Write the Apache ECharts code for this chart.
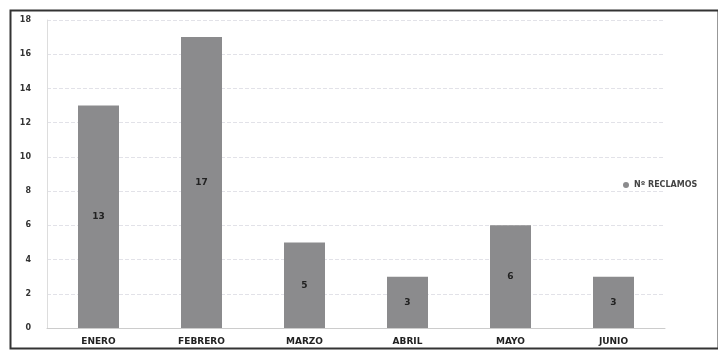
<!DOCTYPE html>
<html>
<head>
<meta charset="utf-8">
<script src="https://cdn.jsdelivr.net/npm/echarts@6/dist/echarts.min.js"></script>
<style>
html,body{margin:0;padding:0;background:#fff;}
#chart{width:718px;height:355px;}
</style>
</head>
<body>
<div id="chart"></div>
<script>
// datos del grafico
var meses = ['ENERO', 'FEBRERO', 'MARZO', 'ABRIL', 'MAYO', 'JUNIO'];
var reclamos = [13, 17, 5, 3, 6, 3];
var serieNombre = 'Nº RECLAMOS';

var myChart = echarts.init(document.getElementById('chart'));
var option = {
    backgroundColor: '#fff',
    textStyle: { fontFamily: 'DejaVu Sans' },
    graphic: [
        { type: 'rect', left: 8, top: 8, shape: { width: 708, height: 338 },
          style: { fill: 'none', stroke: '#333', lineWidth: 2 } }
    ],
    legend: {
        data: [serieNombre],
        left: 618, top: 176,
        icon: 'circle', itemWidth: 6, itemHeight: 6, itemGap: 4,
        textStyle: { fontSize: 8, fontWeight: 'bold', color: '#444' }
    },
    grid: { left: 47, right: 53, top: 20, bottom: 27 },
    xAxis: {
        type: 'category',
        data: meses,
        axisTick: { show: false },
        axisLine: { lineStyle: { color: '#ccc' } },
        axisLabel: { fontSize: 9, fontWeight: 'bold', color: '#222', margin: 9 }
    },
    yAxis: {
        type: 'value',
        min: 0, max: 18, interval: 2,
        axisLine: { show: true, lineStyle: { color: '#ddd' } },
        axisLabel: { fontSize: 8, fontWeight: 'bold', color: '#333', margin: 16 },
        splitLine: { lineStyle: { color: '#e2e2e8', type: 'dashed' } }
    },
    series: [{
        name: serieNombre,
        type: 'bar',
        data: reclamos,
        barWidth: 41,
        itemStyle: { color: '#8b8b8d' },
        label: { show: true, position: 'inside', fontSize: 9, fontWeight: 'bold', color: '#222' }
    }]
};
myChart.setOption(option);
</script>
</body>
</html>
